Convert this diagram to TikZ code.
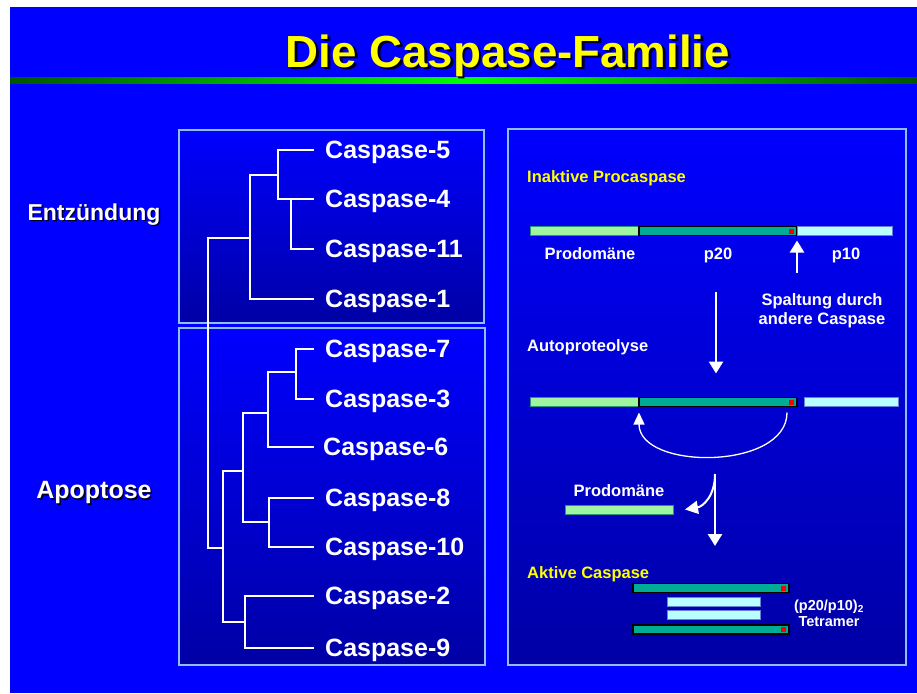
\documentclass[tikz,border=0pt]{standalone}
\usepackage{fontspec}
\setmainfont{Liberation Sans}
\usetikzlibrary{arrows.meta,positioning}
\definecolor{slideblue}{RGB}{0,0,255}
\definecolor{boxdark}{RGB}{0,0,165}
\definecolor{boxedge}{RGB}{140,190,255}
\definecolor{prodogreen}{RGB}{160,245,160}
\definecolor{prodoedge}{RGB}{40,150,120}
\definecolor{ptwenty}{RGB}{0,172,150}
\definecolor{pten}{RGB}{185,255,255}
\definecolor{ptenedge}{RGB}{100,130,220}
\definecolor{slideyellow}{RGB}{255,255,0}
\definecolor{shadowblack}{RGB}{0,0,40}
\definecolor{darkgreen}{RGB}{0,85,0}
\definecolor{brightgreen}{RGB}{0,255,0}
% text with a small drop shadow
\newcommand{\dropshadow}[2]{\makebox[0pt][l]{\hspace*{#1}\raisebox{-#1}{\textcolor{shadowblack}{#2}}}#2}
\tikzset{
    panelbox/.style={draw=boxedge,line width=2.5pt,top color=slideblue,bottom color=boxdark},
    caslabel/.style={anchor=west,inner sep=0pt,text=white,font=\fontsize{25}{28}\selectfont\bfseries,text height=17.9pt,text depth=0pt},
    grouplabel/.style={inner sep=0pt,text=white,font=\fontsize{23}{26}\selectfont\bfseries,text height=16.5pt,text depth=0pt},
    titlelabel/.style={inner sep=0pt,text=slideyellow,font=\fontsize{45}{50}\selectfont\bfseries,text height=32pt,text depth=0pt},
    stagelabel/.style={anchor=west,inner sep=0pt,text=slideyellow,font=\fontsize{16.5}{19}\selectfont\bfseries,text height=11.8pt,text depth=0pt},
    steplabel/.style={stagelabel,text=white},
    partlabel/.style={inner sep=0pt,text=white,font=\fontsize{16.5}{19}\selectfont\bfseries,text height=11.8pt,text depth=0pt},
    notelabel/.style={inner sep=0pt,text=white,align=center,font=\fontsize{16.5}{19}\selectfont\bfseries},
    smallnote/.style={inner sep=0pt,text=white,align=center,font=\fontsize{14.5}{15.5}\selectfont\bfseries},
    treeline/.style={draw=white,line width=2.3pt},
    prodobar/.style={draw=prodoedge,line width=1pt,fill=prodogreen,minimum height=9pt,inner sep=0pt,outer sep=0pt},
    ptwentybar/.style={draw=black,line width=1.3pt,fill=ptwenty,minimum height=9pt,inner sep=0pt,outer sep=0pt},
    ptenbar/.style={draw=ptenedge,line width=1pt,fill=pten,minimum height=9pt,inner sep=0pt,outer sep=0pt},
    activesite/.style={fill=red,minimum size=5pt,inner sep=0pt,anchor=east},
    bigarrow/.style={draw=white,line width=2.5pt,-{Triangle[length=12pt,width=14pt]}},
    thinarrow/.style={draw=white,line width=1.3pt,-{Triangle[length=12pt,width=11pt]}}
}

\begin{document}
\begin{tikzpicture}[x=1pt,y=-1pt]
    % slide background
    \fill[white] (0,0) rectangle (917,693);
    \fill[slideblue] (10,7) rectangle (917,693);
    \shade[left color=darkgreen,right color=darkgreen,middle color=brightgreen] (10,77) rectangle (917,83);
    \node[titlelabel] (title) at (508,51) {\scalebox{1.015}[1]{\dropshadow{2.5pt}{Die Caspase-Familie}}};

    % panels
    \path[panelbox] (179,130) rectangle (484,323);
    \path[panelbox] (179,328) rectangle (485,665);
    \path[panelbox] (508,129) rectangle (906,665);

    % groups
    \node[grouplabel] (entz) at (94,212) {\dropshadow{1.5pt}{Entzündung}};
    \node[grouplabel,font=\fontsize{25}{28}\selectfont\bfseries,text height=17.9pt] (apop) at (94,490) {\dropshadow{1.5pt}{Apoptose}};

    % caspases
    \node[caslabel] (c5) at (325,150) {Caspase-5};
    \node[caslabel] (c4) at (325,199) {Caspase-4};
    \node[caslabel] (c11) at (325,249) {Caspase-11};
    \node[caslabel] (c1) at (325,299) {Caspase-1};
    \node[caslabel] (c7) at (325,349) {Caspase-7};
    \node[caslabel] (c3) at (325,399) {Caspase-3};
    \node[caslabel] (c6) at (323,447) {Caspase-6};
    \node[caslabel] (c8) at (325,498) {Caspase-8};
    \node[caslabel] (c10) at (325,547) {Caspase-10};
    \node[caslabel] (c2) at (325,596) {Caspase-2};
    \node[caslabel] (c9) at (325,648) {Caspase-9};
    \foreach \c in {c5,c4,c11,c1,c7,c3,c8,c10,c2,c9}
        \coordinate (l\c) at ([xshift=-11pt]\c.west);
    \coordinate (lc6) at ([xshift=-9pt]c6.west);

    % tree
    \draw[treeline] (lc5) -| (278,199) -- (lc4);
    \draw[treeline] (lc11) -| (291,199);
    \draw[treeline] (278,175) -| (250,299) -- (lc1);
    \draw[treeline] (250,238) -| (208,548) -- (223,548);
    \draw[treeline] (lc7) -| (296,399) -- (lc3);
    \draw[treeline] (296,372) -| (268,447) -- (lc6);
    \draw[treeline] (lc8) -| (269,547) -- (lc10);
    \draw[treeline] (268,413) -| (243,522) -- (269,522);
    \draw[treeline] (lc2) -| (245,648) -- (lc9);
    \draw[treeline] (243,471) -| (223,622) -- (245,622);

    % inactive procaspase
    \node[stagelabel] (inaktiv) at (527,177) {Inaktive Procaspase};
    \node[prodobar,minimum width=109pt,anchor=west] (proA) at (530,231) {};
    \node[ptwentybar,minimum width=158pt,right=0pt of proA] (pzwA) {};
    \node[ptenbar,minimum width=95pt,right=0pt of pzwA] (pzeA) {};
    \node[activesite] at ([xshift=-3pt]pzwA.east) {};
    \node[partlabel] (proAlabel) at (590,254) {Prodomäne};
    \node[partlabel] (pzwAlabel) at (718,254) {p20};
    \node[partlabel] (pzeAlabel) at (846,254) {p10};
    \coordinate (cutfoot) at (797,273);
    \draw[bigarrow,shorten >=5pt] (cutfoot) -- (pzwA.south east);
    \node[notelabel,anchor=north] (spaltung) at (822,293) {Spaltung durch\\andere Caspase};

    % autoproteolysis
    \node[steplabel] (auto) at (527,346) {Autoproteolyse};
    \node[prodobar,minimum width=109pt,anchor=west] (proB) at (530,402) {};
    \node[ptwentybar,minimum width=158pt,right=0pt of proB] (pzwB) {};
    \node[ptenbar,minimum width=94pt,right=7pt of pzwB] (pzeB) {};
    \node[activesite] at ([xshift=-3pt]pzwB.east) {};
    \draw[bigarrow,shorten <=56pt,shorten >=24pt] ([xshift=-2pt]pzwA.south) -- ([xshift=-2pt]pzwB.north);
    \draw[thinarrow] ([xshift=-10pt,yshift=-6pt]pzwB.south east) .. controls +(0,58) and +(0,58) .. ([yshift=-6pt]pzwB.south west);

    % release of the prodomain
    \coordinate (splittop) at (715,474);
    \coordinate (splitend) at (715,546);
    \draw[bigarrow] (splittop) -- (splitend);
    \node[partlabel] (proClabel) at (619,491) {Prodomäne};
    \node[prodobar,minimum width=108pt,anchor=west] (proC) at (565,509.5) {};
    \draw[draw=white,line width=2pt,-{Triangle[length=13pt,width=13pt]}] (splittop) .. controls +(0,22) and +(18,-3) .. ([xshift=12pt]proC.east);

    % active caspase
    \node[stagelabel] (aktiv) at (527,573) {Aktive Caspase};
    \node[ptwentybar,minimum width=156pt,anchor=west] (pzwC) at (633,588) {};
    \node[ptenbar,minimum width=93pt,anchor=west] (pzeC) at (667,602) {};
    \node[ptenbar,minimum width=93pt,anchor=west] (pzeD) at (667,615) {};
    \node[ptwentybar,minimum width=156pt,anchor=west] (pzwD) at (633,629.5) {};
    \node[activesite] at ([xshift=-3pt]pzwC.east) {};
    \node[activesite] at ([xshift=-3pt]pzwD.east) {};
    \node[smallnote,anchor=north] (tetramer) at (829,600) {(p20/p10)\textsubscript{2}\\Tetramer};
\end{tikzpicture}
\end{document}
